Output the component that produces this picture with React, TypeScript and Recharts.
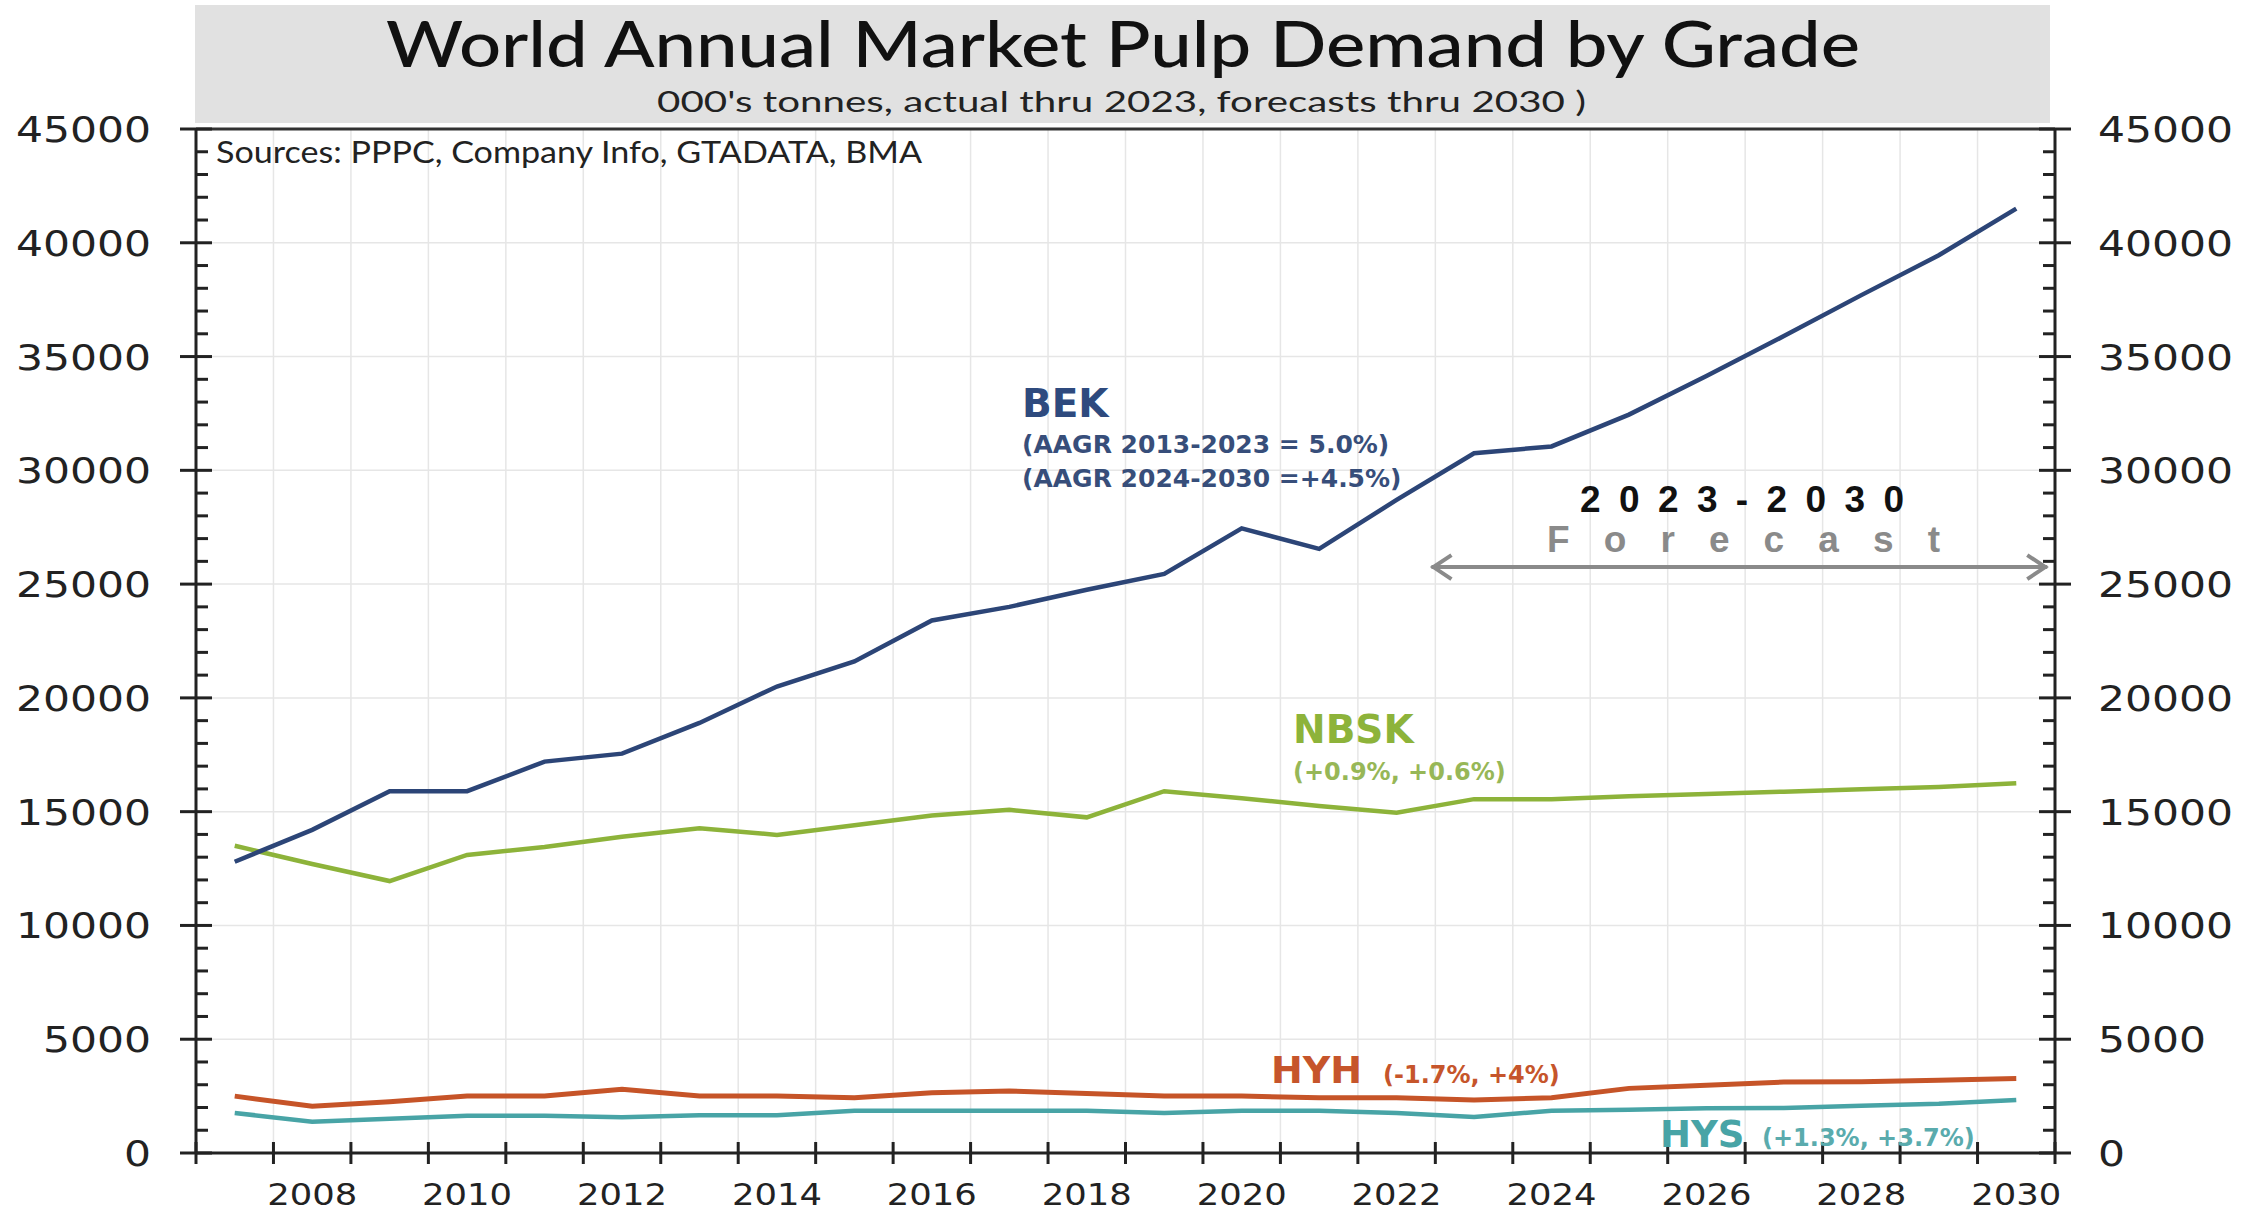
import React from "react";
import {
  LineChart,
  Line,
  XAxis,
  YAxis,
  CartesianGrid,
  ReferenceLine,
} from "recharts";

// years on the category axis, actual thru 2023 and forecast thru 2030
const years = [
  2007, 2008, 2009, 2010, 2011, 2012, 2013, 2014, 2015, 2016, 2017, 2018,
  2019, 2020, 2021, 2022, 2023, 2024, 2025, 2026, 2027, 2028, 2029, 2030,
];

// 000's tonnes
const bek = [
  12800, 14200, 15900, 15900, 17200, 17550, 18900, 20500, 21600, 23400, 24000, 24750,
  25450, 27450, 26550, 28700, 30750, 31050, 32450, 34150, 35900, 37700, 39450, 41500,
];
const nbsk = [
  13500, 12700, 11950, 13100, 13450, 13900, 14270, 13980, 14400, 14830, 15080, 14750,
  15900, 15590, 15250, 14950, 15550, 15550, 15680, 15780, 15880, 15980, 16080, 16250,
];
const hyh = [
  2500, 2050, 2250, 2500, 2500, 2800, 2500, 2500, 2430, 2650, 2720, 2620,
  2500, 2500, 2430, 2430, 2330, 2430, 2840, 2980, 3120, 3130, 3200, 3270,
];
const hys = [
  1760, 1370, 1500, 1640, 1640, 1570, 1660, 1660, 1860, 1860, 1860, 1860,
  1760, 1860, 1860, 1760, 1580, 1860, 1900, 1970, 1980, 2080, 2160, 2330,
];

const labelYears = [2008, 2010, 2012, 2014, 2016, 2018, 2020, 2022, 2024, 2026, 2028, 2030];
const majorTicks = [0, 5000, 10000, 15000, 20000, 25000, 30000, 35000, 40000, 45000];

// forecast arrow (data units)
const forecastArrow = { from: 2022.45, to: 2030.4, level: 25750 };

const data = years.map((y, i) => ({
  year: y,
  bek: bek[i],
  nbsk: nbsk[i],
  hyh: hyh[i],
  hys: hys[i],
}));

// tick marks sit between the years (excel "between tick marks")
const bounds = [...years.map((y) => y - 0.5), years[years.length - 1] + 0.5];
const xTicks = [...bounds, ...labelYears].sort((a, b) => a - b);

// minor ticks every 1000
const yTicks: number[] = [];
for (let v = 0; v <= 45000; v += 1000) yTicks.push(v);

const AXIS = "#222";
const SX = 1.18; // the original is stretched sideways
const TICK_FONT = "'DejaVu Sans', sans-serif";
const ANNO_FONT = "'DejaVu Sans', Verdana, sans-serif";

const XTick = (props: any) => {
  const { x, y, payload } = props;
  const v = payload.value;
  if (labelYears.includes(v)) {
    return (
      <text
        transform={`translate(${x} ${y + 52}) scale(${SX} 1)`}
        textAnchor="middle"
        fontFamily={TICK_FONT}
        fontSize={30}
        fill="#222"
      >
        {v}
      </text>
    );
  }
  return <line x1={x} x2={x} y1={y - 11} y2={y + 11} stroke={AXIS} strokeWidth={3} />;
};

const LeftTick = (props: any) => {
  const { x, y, payload } = props;
  const v = payload.value;
  if (v % 5000 === 0) {
    return (
      <g>
        <line x1={x - 16} x2={x + 16} y1={y} y2={y} stroke={AXIS} strokeWidth={3} />
        <text
          transform={`translate(${x - 45} ${y}) scale(${SX} 1)`}
          dy="0.36em"
          textAnchor="end"
          fontFamily={TICK_FONT}
          fontSize={36}
          fill="#222"
        >
          {v}
        </text>
      </g>
    );
  }
  return <line x1={x} x2={x + 12} y1={y} y2={y} stroke={AXIS} strokeWidth={3} />;
};

const RightTick = (props: any) => {
  const { x, y, payload } = props;
  const v = payload.value;
  if (v % 5000 === 0) {
    return (
      <g>
        <line x1={x - 16} x2={x + 16} y1={y} y2={y} stroke={AXIS} strokeWidth={3} />
        <text
          transform={`translate(${x + 43} ${y}) scale(${SX} 1)`}
          dy="0.36em"
          textAnchor="start"
          fontFamily={TICK_FONT}
          fontSize={36}
          fill="#222"
        >
          {v}
        </text>
      </g>
    );
  }
  return <line x1={x - 12} x2={x} y1={y} y2={y} stroke={AXIS} strokeWidth={3} />;
};

// double headed arrow for the forecast span
const ArrowShape = (props: any) => {
  const { x1, y1, x2, y2 } = props;
  const c = "#8a8a8a";
  return (
    <g>
      <line x1={x1} y1={y1} x2={x2} y2={y2} stroke={c} strokeWidth={4} />
      <polyline
        points={`${x1 + 20},${y1 - 12} ${x1 + 2},${y1} ${x1 + 20},${y1 + 12}`}
        fill="none"
        stroke={c}
        strokeWidth={4}
      />
      <polyline
        points={`${x2 - 20},${y2 - 12} ${x2 - 2},${y2} ${x2 - 20},${y2 + 12}`}
        fill="none"
        stroke={c}
        strokeWidth={4}
      />
    </g>
  );
};

export default function App() {
  return (
    <div
      style={{
        position: "absolute",
        left: 0,
        top: 0,
        width: 2255,
        height: 1214,
        background: "#fff",
        overflow: "hidden",
      }}
    >
      <LineChart
        width={2255}
        height={1214}
        data={data}
        margin={{ top: 129, right: 0, bottom: 0, left: 0 }}
      >
        <CartesianGrid
          stroke="#e6e6e6"
          strokeWidth={1.5}
          horizontalValues={majorTicks.slice(1, -1)}
          verticalValues={bounds.slice(1, -1)}
        />
        <XAxis
          dataKey="year"
          type="number"
          domain={[2006.5, 2030.5]}
          ticks={xTicks}
          interval={0}
          tickSize={0}
          tickMargin={0}
          tickLine={false}
          tick={<XTick />}
          height={61}
          axisLine={{ stroke: AXIS, strokeWidth: 3 }}
        />
        <YAxis
          type="number"
          domain={[0, 45000]}
          ticks={yTicks}
          interval={0}
          width={196}
          tickSize={0}
          tickMargin={0}
          tickLine={false}
          tick={<LeftTick />}
          axisLine={{ stroke: AXIS, strokeWidth: 3 }}
        />
        <YAxis
          yAxisId="right"
          orientation="right"
          type="number"
          domain={[0, 45000]}
          ticks={yTicks}
          interval={0}
          width={200}
          tickSize={0}
          tickMargin={0}
          tickLine={false}
          tick={<RightTick />}
          axisLine={{ stroke: AXIS, strokeWidth: 3 }}
        />
        <ReferenceLine y={45000} stroke="#333" strokeWidth={3} />
        <ReferenceLine
          segment={[
            { x: forecastArrow.from, y: forecastArrow.level },
            { x: forecastArrow.to, y: forecastArrow.level },
          ]}
          shape={<ArrowShape />}
        />
        <Line dataKey="nbsk" stroke="#8db33a" strokeWidth={4.5} dot={false} isAnimationActive={false} />
        <Line dataKey="hyh" stroke="#c65428" strokeWidth={5} dot={false} isAnimationActive={false} />
        <Line dataKey="hys" stroke="#48a4a6" strokeWidth={4.5} dot={false} isAnimationActive={false} />
        {/* BEK sits on the secondary (right) axis, same 0-45000 scale */}
        <Line
          yAxisId="right"
          dataKey="bek"
          stroke="#2c4577"
          strokeWidth={4.5}
          dot={false}
          isAnimationActive={false}
        />
      </LineChart>

      {/* title box, source note and series annotations */}
      <svg
        width={2255}
        height={1214}
        style={{ position: "absolute", left: 0, top: 0, pointerEvents: "none" }}
      >
        <rect x={195} y={5} width={1855} height={118} fill="#e1e1e1" />
        <text
          x={386}
          y={67}
          fontFamily="Lato, sans-serif"
          fontSize={64}
          fontWeight={500}
          fill="#111"
          textLength={1474}
          lengthAdjust="spacingAndGlyphs"
        >
          World Annual Market Pulp Demand by Grade
        </text>
        <text
          x={657}
          y={112}
          fontFamily="Lato, sans-serif"
          fontSize={29}
          fill="#222"
          textLength={929}
          lengthAdjust="spacingAndGlyphs"
        >
          000's tonnes, actual thru 2023, forecasts thru 2030 )
        </text>
        <text
          x={216}
          y={163}
          fontFamily="Lato, sans-serif"
          fontSize={30}
          fill="#222"
          textLength={706}
          lengthAdjust="spacingAndGlyphs"
        >
          Sources: PPPC, Company Info, GTADATA, BMA
        </text>

        <g fontFamily={ANNO_FONT} fontWeight="bold">
          <text x={1022} y={417} fontSize={39} fill="#2e4a7e">BEK</text>
          <text x={1022} y={453} fontSize={25} fill="#374e7a">(AAGR 2013-2023 = 5.0%)</text>
          <text x={1022} y={487} fontSize={25} fill="#374e7a">(AAGR 2024-2030 =+4.5%)</text>

          <text x={1293} y={743} fontSize={39} fill="#8db33a">NBSK</text>
          <text x={1293} y={780} fontSize={24} fill="#97b757">(+0.9%, +0.6%)</text>

          <text x={1271} y={1083} fontSize={38} fill="#c6552b">HYH</text>
          <text x={1383} y={1083} fontSize={24} fill="#c6552b">(-1.7%, +4%)</text>

          <text x={1660} y={1147} fontSize={37} fill="#48a4a6">HYS</text>
          <text x={1762} y={1146} fontSize={24} fill="#5aabad">(+1.3%, +3.7%)</text>
        </g>

        <text
          x={1580}
          y={512}
          fontFamily="'Liberation Sans', Arial, sans-serif"
          fontWeight="bold"
          fontSize={37}
          fill="#111"
          textLength={324}
          lengthAdjust="spacing"
        >
          2023-2030
        </text>
        <text
          x={1547}
          y={552}
          fontFamily="'Liberation Sans', Arial, sans-serif"
          fontWeight="bold"
          fontSize={37}
          fill="#8a8a8a"
          textLength={393}
          lengthAdjust="spacing"
        >
          Forecast
        </text>
      </svg>
    </div>
  );
}
